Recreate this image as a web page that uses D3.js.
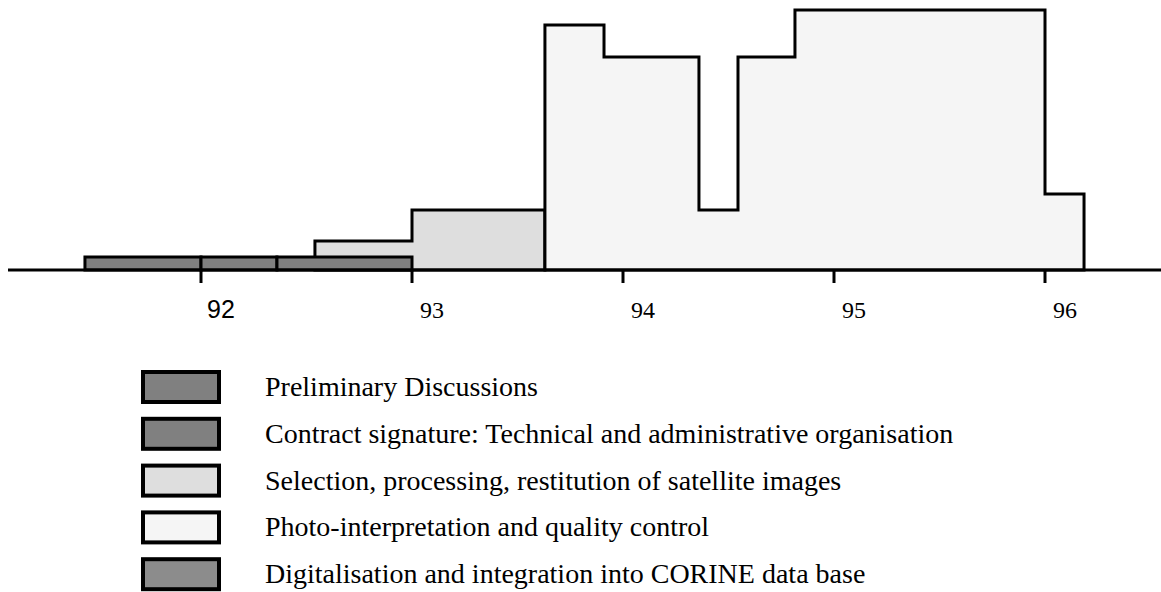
<!DOCTYPE html>
<html>
<head>
<meta charset="utf-8">
<script src="https://cdn.jsdelivr.net/npm/d3@7"></script>
<style>
  html, body { margin: 0; padding: 0; background: #fff; }
  svg { display: block; }
</style>
</head>
<body>
<svg id="chart" width="1161" height="592"></svg>
<script>
// ---- data ----
const years = [92, 93, 94, 95, 96];
const yearLabels = ["92", "93", "94", "95", "96"];

// dark phases: separate boxes (preliminary discussions, contract signature)
const darkStarts = [91.45, 92.0, 92.36];
const darkEnds   = [92.0, 92.36, 93.0];
const darkValues = [1.3, 1.3, 1.3];

// selection, processing, restitution of satellite images (step outline)
const selectionBreaks = [92.54, 93.0, 93.63];
const selectionValues = [2.9, 6.0];

// photo-interpretation and quality control (step outline)
const photoBreaks = [93.63, 93.91, 94.36, 94.545, 94.815, 96.0, 96.185];
const photoValues = [24.5, 21.3, 6.0, 21.3, 26.0, 7.6];

const legendLabels = [
  "Preliminary Discussions",
  "Contract signature: Technical and administrative organisation",
  "Selection, processing, restitution of satellite images",
  "Photo-interpretation and quality control",
  "Digitalisation and integration into CORINE data base"
];
const legendColors = ["#808080", "#808080", "#dedede", "#f5f5f5", "#8c8c8c"];

// ---- drawing ----
const svg = d3.select("#chart");
const x = d3.scaleLinear().domain([92, 96]).range([201, 1045]);
const y = d3.scaleLinear().domain([0, 26]).range([270, 10]);

function stepPath(breaks, values) {
  const p = d3.path();
  p.moveTo(x(breaks[0]), y(0));
  values.forEach((v, i) => {
    p.lineTo(x(breaks[i]), y(v));
    p.lineTo(x(breaks[i + 1]), y(v));
  });
  p.lineTo(x(breaks[breaks.length - 1]), y(0));
  p.closePath();
  return p.toString();
}

const g = svg.append("g");

g.append("path")
  .attr("d", stepPath(selectionBreaks, selectionValues))
  .attr("fill", "#dedede").attr("stroke", "#000").attr("stroke-width", 3)
  .attr("stroke-linejoin", "miter");

g.append("path")
  .attr("d", stepPath(photoBreaks, photoValues))
  .attr("fill", "#f5f5f5").attr("stroke", "#000").attr("stroke-width", 3)
  .attr("stroke-linejoin", "miter");

g.selectAll("rect.dark")
  .data(darkStarts.map((s, i) => ({ s, e: darkEnds[i], v: darkValues[i] })))
  .join("rect")
  .attr("class", "dark")
  .attr("x", d => x(d.s))
  .attr("width", d => x(d.e) - x(d.s))
  .attr("y", d => y(d.v))
  .attr("height", d => y(0) - y(d.v))
  .attr("fill", "#808080").attr("stroke", "#000").attr("stroke-width", 3);

// axis
svg.append("line")
  .attr("x1", 8).attr("x2", 1161)
  .attr("y1", y(0)).attr("y2", y(0))
  .attr("stroke", "#000").attr("stroke-width", 3);

svg.selectAll("line.tick")
  .data(years)
  .join("line")
  .attr("class", "tick")
  .attr("x1", d => x(d)).attr("x2", d => x(d))
  .attr("y1", y(0)).attr("y2", y(0) + 13)
  .attr("stroke", "#000").attr("stroke-width", 3);

svg.selectAll("text.tl")
  .data(years)
  .join("text")
  .attr("class", "tl")
  .attr("x", d => x(d) + 20)
  .attr("y", 318)
  .attr("text-anchor", "middle")
  .attr("font-family", (d, i) => i === 0 ? "'Liberation Sans', Arial, sans-serif" : "'Liberation Serif', 'Times New Roman', serif")
  .attr("font-size", (d, i) => i === 0 ? 25 : 24)
  .attr("fill", "#000")
  .text((d, i) => yearLabels[i]);

// legend
const leg = svg.append("g");
const rowH = 46.8;
legendLabels.forEach((lab, i) => {
  const cy = 387 + i * rowH;
  leg.append("rect")
    .attr("x", 143).attr("y", cy - 15)
    .attr("width", 76).attr("height", 30)
    .attr("fill", legendColors[i]).attr("stroke", "#000").attr("stroke-width", 4);
  leg.append("text")
    .attr("x", 265).attr("y", cy + 9)
    .attr("font-family", "'Liberation Serif', 'Times New Roman', serif")
    .attr("font-size", 28)
    .attr("fill", "#000")
    .text(lab);
});
</script>
</body>
</html>
